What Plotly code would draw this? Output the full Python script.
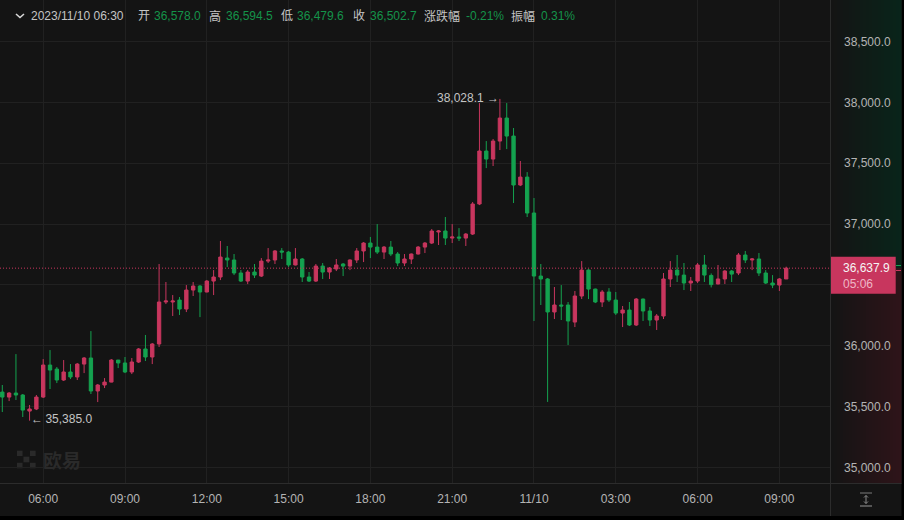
import pandas as pd
import plotly.graph_objects as go

W, H = 904, 520
START = "2023-11-09 04:30"
OPENS = [35620,35579,35612,35596,35464,35481,35579,35842,35809,35719,35785,35744,35850,35900,35629,35678,35702,35883,35859,35785,35867,35974,35908,36015,36360,36360,36376,36302,36458,36491,36442,36532,36565,36721,36705,36598,36532,36606,36573,36696,
36705,36779,36770,36664,36713,36565,36532,36655,36606,36631,36672,36655,36705,36779,36844,36811,36770,36811,36754,36680,36713,36754,36811,36844,36935,36943,36885,36894,36885,36918,37165,37600,37534,37682,37871,37723,37321,37386,37091,36573,
36549,36278,36335,36335,36195,36409,36622,36466,36360,36442,36376,36269,36294,36171,36384,36286,36212,36245,36549,36622,36581,36516,36532,36664,36578.0,36508,36549,36614,36598,36746,36705,36713,36598,36516,36499,36549]
HIGHS = [35678,35620,35932,35604,35514,35596,35891,35965,35826,35883,35850,35859,35908,36121,35686,35735,35891,35883,35908,35900,35982,36089,36023,36672,36524,36417,36401,36499,36524,36499,36540,36622,36861,36820,36754,36622,36622,36672,36721,36803,
36787,36803,36779,36803,36721,36606,36672,36680,36647,36713,36680,36710,36803,36852,36894,37000,36820,36861,36770,36754,36758,36820,36852,36959,36951,37058,37000,36967,36926,37181,37994,37682,37699,38028.1,37994,37789,37518,37427,37214,36672,
36557,36483,36499,36360,36450,36696,36630,36470,36458,36474,36442,36327,36360,36393,36388,36319,36261,36598,36696,36746,36680,36565,36680,36746,36594.5,36664,36622,36622,36762,36779,36721,36762,36622,36581,36557,36650]
LOWS = [35456,35546,35555,35415,35385.0,35472,35571,35645,35694,35711,35727,35719,35776,35604,35538,35653,35700,35817,35776,35768,35859,35875,35850,35990,36343,36245,36253,36277,36409,36236,36440,36417,36540,36647,36581,36524,36507,36557,36565,36680,
36672,36713,36647,36660,36524,36524,36524,36549,36549,36614,36573,36622,36680,36688,36721,36754,36713,36737,36655,36655,36672,36750,36762,36836,36828,36828,36844,36861,36820,36910,37156,37460,37477,37608,37616,37173,37312,37058,36204,36335,
35539,36220,36212,36007,36154,36384,36384,36351,36319,36360,36253,36154,36163,36163,36204,36163,36130,36220,36483,36524,36458,36450,36516,36524,36479.6,36505,36508,36524,36581,36680,36622,36573,36508,36474,36450,36549]
CLOSES = [35579,35612,35596,35472,35481,35579,35842,35801,35719,35785,35744,35850,35900,35629,35678,35702,35883,35859,35785,35867,35974,35908,36015,36360,36368,36368,36302,36458,36491,36442,36532,36565,36729,36705,36598,36532,36606,36581,36696,36705,
36779,36770,36664,36713,36565,36532,36655,36606,36639,36664,36655,36705,36779,36844,36811,36770,36811,36754,36680,36713,36754,36811,36844,36943,36943,36885,36894,36885,36918,37165,37600,37534,37682,37871,37723,37321,37386,37091,36573,36549,
36278,36335,36327,36204,36409,36622,36466,36360,36442,36376,36269,36294,36171,36384,36286,36212,36245,36549,36622,36581,36516,36532,36664,36581,36502.7,36549,36614,36589,36746,36705,36713,36598,36516,36499,36549,36637.9]

TICK_TIMES = ["2023-11-09 06:00","2023-11-09 09:00","2023-11-09 12:00","2023-11-09 15:00","2023-11-09 18:00","2023-11-09 21:00","2023-11-10 00:00","2023-11-10 03:00","2023-11-10 06:00","2023-11-10 09:00"]
TICK_TEXT = ["06:00","09:00","12:00","15:00","18:00","21:00","11/10","03:00","06:00","09:00"]
PRICE_TICKS = [35000, 35500, 36000, 37000, 37500, 38000, 38500]
CURRENT = 36637.9
COUNTDOWN = "05:06"
HIGH_LABEL = "38,028.1 →"
LOW_LABEL = "←\u200935,385.0"
HEADER = [("2023/11/10 06:30", 30, "t"), ("开", 136.5, "t"), ("36,578.0", 153, "v"), ("高", 208, "t"), ("36,594.5", 225, "v"),
          ("低", 280, "t"), ("36,479.6", 296, "v"), ("收", 351.5, "t"), ("36,502.7", 368.5, "v"), ("涨跌幅", 423, "t"),
          ("-0.21%", 464.5, "v"), ("振幅", 510, "t"), ("0.31%", 539.5, "v")]

BG = "#141414"; RED = "#C8365E"; GREEN = "#14A24F"; GRID = "#212121"; DIV = "#2c2c2c"; TXT = "#b4b4b4"
FONT = "Liberation Sans, Noto Sans CJK SC, sans-serif"

px = lambda x: x / W
py = lambda y: 1 - y / H
times = pd.date_range(START, periods=len(OPENS), freq="15min")
YR = [34869, 38840.6]
XR = ["2023-11-09 04:24:56", "2023-11-10 10:52:30"]

fig = go.Figure()
fig.add_trace(go.Candlestick(
    x=times, open=OPENS, high=HIGHS, low=LOWS, close=CLOSES, whiskerwidth=0,
    increasing=dict(line=dict(color=RED, width=1), fillcolor=RED),
    decreasing=dict(line=dict(color=GREEN, width=1), fillcolor=GREEN),
    hoverinfo="skip", xaxis="x", yaxis="y", showlegend=False))

cols = 24
fig.add_trace(go.Heatmap(
    x=list(range(cols + 1)), y=[YR[0], CURRENT, YR[1]],
    z=[[-i / (cols - 1) for i in range(cols)], [i / (cols - 1) for i in range(cols)]],
    zmin=-1, zmax=1, showscale=False, hoverinfo="skip", xaxis="x2", yaxis="y2",
    colorscale=[[0, "#2E1419"], [0.5, BG], [1, "#09241A"]]))

shapes = [
    dict(type="rect", xref="paper", yref="paper", x0=0, x1=px(901.5), y0=py(516), y1=1, fillcolor=BG, line_width=0, layer="below"),
    dict(type="line", xref="paper", yref="paper", x0=px(830.5), x1=px(830.5), y0=py(516), y1=1, line=dict(color=DIV, width=1)),
    dict(type="line", xref="paper", yref="paper", x0=0, x1=px(901.5), y0=py(483.5), y1=py(483.5), line=dict(color=DIV, width=1)),
    dict(type="line", xref="x domain", yref="y", x0=0, x1=1, y0=CURRENT, y1=CURRENT, line=dict(color=RED, width=1, dash="1px,2px")),
    dict(type="rect", xref="paper", yref="paper", x0=px(831), x1=px(895.7), y0=py(293.7), y1=py(256.7), fillcolor=RED, line_width=0),
    dict(type="line", xref="paper", yref="paper", x0=px(896), x1=px(901), y0=py(265.5), y1=py(265.5), line=dict(color=GREEN, width=1)),
    dict(type="line", xref="paper", yref="paper", x0=px(896), x1=px(901), y0=py(270.5), y1=py(270.5), line=dict(color=RED, width=1)),
    dict(type="path", xref="paper", yref="paper", line=dict(color="#d8d8d8", width=1.6),
         path=f"M {px(16)} {py(14)} L {px(20)} {py(17.5)} L {px(24)} {py(14)}"),
    dict(type="line", xref="paper", yref="paper", x0=px(860), x1=px(872), y0=py(493), y1=py(493), line=dict(color="#7a7a7a", width=1)),
    dict(type="line", xref="paper", yref="paper", x0=px(860), x1=px(872), y0=py(506), y1=py(506), line=dict(color="#666666", width=1.6)),
    dict(type="line", xref="paper", yref="paper", x0=px(866), x1=px(866), y0=py(495.5), y1=py(503.5), line=dict(color="#8a8a8a", width=1)),
    dict(type="path", xref="paper", yref="paper", line=dict(color="#8a8a8a", width=1),
         path=f"M {px(864)} {py(497.5)} L {px(866)} {py(495.5)} L {px(868)} {py(497.5)}"),
    dict(type="path", xref="paper", yref="paper", line=dict(color="#8a8a8a", width=1),
         path=f"M {px(864)} {py(501.5)} L {px(866)} {py(503.5)} L {px(868)} {py(501.5)}"),
]
for (a, b, c, d) in [(17, 22.5, 450.7, 456), (30, 35.6, 450.7, 456), (23.5, 29.3, 456.7, 462.3), (17, 22.5, 462.8, 468.3), (30, 35.6, 462.8, 468.3)]:
    shapes.append(dict(type="rect", xref="paper", yref="paper", x0=px(a), x1=px(b), y0=py(d), y1=py(c),
                       fillcolor="#2a2a2a", line_width=0, layer="below"))

annotations = [
    dict(x=times[73], y=38028.1, xref="x", yref="y", text=HIGH_LABEL, showarrow=False,
         xanchor="right", yanchor="middle", xshift=1, yshift=0.5, font=dict(family=FONT, size=12, color="#c4c4c4")),
    dict(x=times[4], y=35385.0, xref="x", yref="y", text=LOW_LABEL, showarrow=False,
         xanchor="left", yanchor="middle", xshift=-1, yshift=1.5, font=dict(family=FONT, size=12, color="#c4c4c4")),
    dict(x=px(842), y=py(267.5), xref="paper", yref="paper", text="36,637.9", showarrow=False, xanchor="left", yanchor="middle",
         height=13, borderpad=0, font=dict(family=FONT, size=12, color="#f5f5f5")),
    dict(x=px(842), y=py(283), xref="paper", yref="paper", text=COUNTDOWN, showarrow=False, xanchor="left", yanchor="middle",
         height=13, borderpad=0, font=dict(family=FONT, size=12, color="#eeb6c6")),
    dict(x=px(41), y=py(459.5), xref="paper", yref="paper", text="<b>欧易</b>", showarrow=False, xanchor="left", yanchor="middle",
         font=dict(family="Noto Sans CJK SC", size=19, color="#2a2a2a")),
]
for text, x, kind in HEADER:
    annotations.append(dict(x=px(x), y=py(16), xref="paper", yref="paper", text=text, showarrow=False, xanchor="left", yanchor="middle",
                            borderpad=0, font=dict(family=FONT, size=12, color="#c4c4c4" if kind == "t" else "#14934a")))

fig.update_layout(
    width=W, height=H, margin=dict(l=0, r=0, t=0, b=0), paper_bgcolor="#000000", plot_bgcolor=BG,
    font=dict(family=FONT, size=12, color=TXT), showlegend=False, hovermode=False, dragmode=False,
    shapes=shapes, annotations=annotations,
    xaxis=dict(domain=[0, px(830.5)], range=XR, type="date", anchor="y", rangeslider=dict(visible=False), tickvals=TICK_TIMES, ticktext=TICK_TEXT,
               showgrid=True, gridcolor=GRID, gridwidth=1, zeroline=False, showline=False, ticks="", ticklabelstandoff=6,
               tickfont=dict(color=TXT, size=12)),
    yaxis=dict(domain=[py(483.5), 1], range=YR, anchor="x", side="right", tick0=35000, dtick=500, showticklabels=False,
               showgrid=True, gridcolor=GRID, gridwidth=1, zeroline=False, showline=False, ticks=""),
    xaxis2=dict(domain=[px(831), px(901.5)], range=[0, cols], anchor="y2", visible=False),
    yaxis2=dict(domain=[py(483.5), 1], range=YR, anchor="x2", side="left", tickvals=PRICE_TICKS, tickformat=",.1f",
                ticklabelposition="inside", ticklabelstandoff=10, showgrid=False, zeroline=False, showline=False, ticks="",
                tickfont=dict(color=TXT, size=12)),
)
fig.write_html("out.html", config=dict(displayModeBar=False), post_script="document.body.style.margin='0';document.body.style.background='#000';")
